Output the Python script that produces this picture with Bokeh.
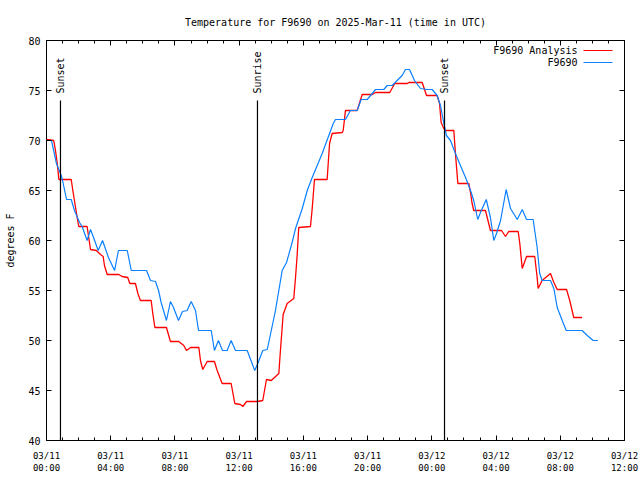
import math
import pandas as pd
from bokeh.plotting import figure
from bokeh.models import LinearAxis, FixedTicker, Range1d, Label, BoxAnnotation
from bokeh.core.properties import value
from bokeh.embed import file_html
from bokeh.resources import INLINE

# ---------------- data ----------------
start_day = "2025-03-11 00:00:00"

# F9690 observations: hours after 2025-03-11 00:00 UTC, temperature (F)
obs_hours = [0.0, 0.31, 0.62, 0.92, 1.0, 1.25, 1.54, 1.74, 1.93, 2.06,
             2.22, 2.53, 2.74, 2.93, 3.22, 3.49, 3.86, 4.24, 4.48, 5.03,
             5.28, 6.23, 6.48, 6.79, 6.98, 7.14, 7.47, 7.72, 7.91, 8.22,
             8.47, 8.76, 9.01, 9.28, 9.47, 10.26, 10.46, 10.71, 10.96, 11.25,
             11.5, 11.77, 12.5, 12.97, 13.16, 13.47, 13.75, 14.0, 14.26, 14.68,
             14.95, 15.3, 15.51, 15.93, 16.24, 16.55, 17.17, 17.86, 18.0, 18.62,
             18.93, 19.35, 19.6, 19.97, 20.29, 20.49, 21.01, 21.22, 21.53, 21.84,
             22.15, 22.36, 22.61, 22.92, 23.29, 23.71, 24.02, 24.33, 24.54, 24.75,
             24.91, 25.16, 25.47, 25.78, 26.1, 26.41, 26.61, 26.86, 27.03, 27.39,
             27.65, 27.86, 28.03, 28.28, 28.63, 28.9, 29.32, 29.63, 29.9, 30.31,
             30.56, 30.72, 30.87, 31.39, 31.6, 31.81, 32.12, 32.37, 33.36, 33.68,
             34.05, 34.34]
obs_temp = [70, 70, 67.7, 66.5, 66, 64.1, 64.1, 63, 62.3, 61.8,
            61.4, 60, 61.1, 60.3, 59, 60, 58.3, 57, 59, 59,
            57, 57, 56, 55.9, 55, 53.8, 52, 53.9, 53.3, 52,
            52.9, 53, 53.9, 53, 51, 51, 49, 50, 49, 49,
            50, 49, 49, 47, 47.7, 49, 49.1, 51, 53, 57,
            57.8, 59.8, 61.2, 63.2, 65, 66.3, 68.7, 71.7, 72.1, 72.1,
            73, 73, 74.1, 74.1, 74.7, 75.1, 75.1, 75.5, 75.5, 76,
            76.5, 77.1, 77.1, 76, 75.2, 75.1, 75.1, 74.5, 73.5, 71.7,
            70.5, 70, 68.7, 67.5, 66.3, 65, 64, 62.1, 62.8, 64.1,
            62.3, 60, 60.7, 62, 65.1, 63.2, 62.1, 63.1, 62.1, 62.1,
            59.3, 56.7, 56, 56, 55.2, 53.3, 52, 51, 51, 50.5,
            50, 50]

# F9690 Analysis
ana_hours = [0.0, 0.45, 0.56, 0.67, 0.77, 1.54, 1.64, 1.76, 1.91, 2.01,
             2.53, 2.63, 2.74, 3.11, 3.36, 3.53, 3.61, 3.78, 4.5, 4.71,
             5.06, 5.19, 5.54, 5.69, 5.85, 6.52, 6.62, 6.75, 7.47, 7.72,
             8.24, 8.55, 8.72, 8.97, 9.49, 9.59, 9.73, 10.01, 10.46, 10.63,
             10.94, 11.5, 11.73, 12.08, 12.23, 12.46, 13.14, 13.47, 13.7, 14.0,
             14.47, 14.57, 14.74, 14.99, 15.4, 15.51, 15.61, 15.71, 16.44, 16.55,
             16.69, 17.48, 17.63, 17.79, 18.42, 18.48, 18.62, 19.35, 19.66, 20.29,
             20.49, 21.38, 21.69, 22.47, 22.57, 23.4, 23.67, 24.33, 24.48, 24.58,
             24.75, 24.85, 25.37, 25.47, 25.62, 26.3, 26.41, 26.51, 26.61, 27.34,
             27.45, 27.65, 28.34, 28.59, 28.79, 29.38, 29.48, 29.63, 29.9, 30.41,
             30.56, 30.62, 30.87, 31.39, 31.6, 31.81, 32.39, 32.59, 32.84, 33.36]
ana_temp = [70.1, 70, 69, 67.7, 66.1, 66.1, 65, 63.8, 62.3, 61.4,
            61.4, 60.3, 59.1, 59, 58.6, 58.4, 57.5, 56.6, 56.6, 56.4,
            56.3, 55.7, 55.7, 54.7, 54, 54, 52.7, 51.3, 51.3, 49.9,
            49.9, 49.5, 49, 49.3, 49.3, 48, 47.1, 47.9, 47.9, 47,
            45.7, 45.7, 43.7, 43.6, 43.4, 43.9, 43.9, 44, 46.1, 46,
            46.7, 49, 52.6, 53.7, 54.2, 56.3, 58.5, 61.3, 61.4, 63.2,
            66.1, 66.1, 69.7, 70.7, 70.8, 71, 73, 73, 74.6, 74.6,
            74.8, 74.8, 75.7, 75.7, 75.8, 75.8, 74.5, 74.5, 73.7, 71.8,
            71.2, 71, 71, 68.7, 65.7, 65.7, 64.8, 63.7, 63, 63,
            62.3, 61, 61, 60.4, 60.9, 60.9, 59.7, 57.2, 58.4, 58.4,
            56.3, 55.2, 56, 56.7, 55.8, 55.1, 55.1, 54, 52.3, 52.3]

event_names = ["Sunset", "Sunrise", "Sunset"]
event_hours = [0.87, 13.14, 24.79]
event_top = 74.0
event_label_y = 74.7

x_tick_hours = [0, 4, 8, 12, 16, 20, 24, 28, 32, 36]
x_minor_hours = list(range(0, 37))
y_ticks = [40, 45, 50, 55, 60, 65, 70, 75, 80]
x_limits = [0, 36]
y_limits = [40, 80]

title_text = "Temperature for F9690 on 2025-Mar-11 (time in UTC)"
y_label = "degrees F"
series_names = ["F9690 Analysis", "F9690"]
series_colors = ["#ff0000", "#0a80ff"]

# ---------------- helpers ----------------
BASE = pd.Timestamp(start_day)
base_ms = BASE.value // 10**6
HOUR_MS = 3600 * 1000


def to_ms(hours):
    return [base_ms + h * HOUR_MS for h in hours]


FONT = "DejaVu Sans Mono"

p = figure(width=640, height=480, output_backend="svg", toolbar_location=None,
           x_range=Range1d(*to_ms(x_limits)), y_range=Range1d(*y_limits),
           min_border_left=46, min_border_right=16, min_border_top=40,
           min_border_bottom=40, background_fill_color="white",
           border_fill_color="white")

p.grid.visible = False
p.outline_line_color = "black"
p.outline_line_width = 1

p.title.text = title_text
p.title.text_font = FONT
p.title.text_font_size = "10px"
p.title.text_font_style = "normal"
p.title.text_color = "black"
p.title.align = "center"
p.title.standoff = 25

x_major = to_ms(x_tick_hours)
x_ticker = FixedTicker(ticks=x_major, minor_ticks=to_ms(x_minor_hours))
overrides = {}
for h, ms in zip(x_tick_hours, x_major):
    t = BASE + pd.Timedelta(hours=h)
    overrides[ms] = t.strftime("%m/%d") + "\n" + t.strftime("%H:%M")

y_ticker = FixedTicker(ticks=y_ticks, minor_ticks=[])


def style_axis(ax, show_labels=True):
    ax.axis_line_color = None
    ax.major_tick_in = 5
    ax.major_tick_out = 0
    ax.minor_tick_in = 3
    ax.minor_tick_out = 0
    ax.major_tick_line_color = "black"
    ax.minor_tick_line_color = "black"
    ax.major_label_text_font = FONT
    ax.major_label_text_color = "black"
    if not show_labels:
        ax.major_label_text_color = None
        ax.major_label_standoff = 0


xa = p.xaxis[0]
xa.ticker = x_ticker
xa.major_label_overrides = overrides
style_axis(xa)
xa.major_label_text_font_size = "9px"
xa.major_label_standoff = 10

ya = p.yaxis[0]
ya.ticker = y_ticker
style_axis(ya)
ya.major_label_text_font_size = "10px"
ya.major_label_standoff = 6
ya.axis_label = y_label
ya.axis_label_text_font = FONT
ya.axis_label_text_font_size = "10px"
ya.axis_label_text_font_style = "normal"
ya.axis_label_text_color = "black"
ya.axis_label_standoff = 9
ya.minor_tick_line_color = None

top_ax = LinearAxis(ticker=FixedTicker(ticks=x_major, minor_ticks=to_ms(x_minor_hours)))
style_axis(top_ax, show_labels=False)
top_ax.major_label_overrides = {ms: "" for ms in x_major}
p.add_layout(top_ax, "above")

right_ax = LinearAxis(ticker=FixedTicker(ticks=y_ticks, minor_ticks=[]))
style_axis(right_ax, show_labels=False)
right_ax.major_label_overrides = {t: "" for t in y_ticks}
right_ax.minor_tick_line_color = None
p.add_layout(right_ax, "right")

# series
p.line(to_ms(ana_hours), ana_temp, line_color=series_colors[0], line_width=1.3)
p.line(to_ms(obs_hours), obs_temp, line_color=series_colors[1], line_width=1.2)

# sunrise / sunset markers
ev_ms = to_ms(event_hours)
p.segment(x0=ev_ms, y0=[event_top] * 3, x1=ev_ms, y1=[y_limits[0]] * 3,
          line_color="black", line_width=1.2)
p.text(x=ev_ms, y=[event_label_y] * 3, text=event_names, angle=math.pi / 2,
       text_align="left", text_baseline="middle", text_font=value(FONT),
       text_font_size="10px", text_color="black")

# gnuplot-style key (text on the left, sample on the right)
key_rows_y = [390, 378]
for name, color, ky in zip(series_names, series_colors, key_rows_y):
    p.add_layout(Label(x=531, y=ky, x_units="screen", y_units="screen", text=name,
                       text_align="right", text_baseline="middle",
                       text_font=FONT, text_font_size="10px", text_color="black"))
    p.add_layout(BoxAnnotation(left=537, right=566, bottom=ky - 0.6, top=ky + 0.6,
                               left_units="screen", right_units="screen",
                               top_units="screen", bottom_units="screen",
                               fill_color=color, fill_alpha=1, line_color=None))

open("out.html", "w").write(file_html(p, INLINE))
